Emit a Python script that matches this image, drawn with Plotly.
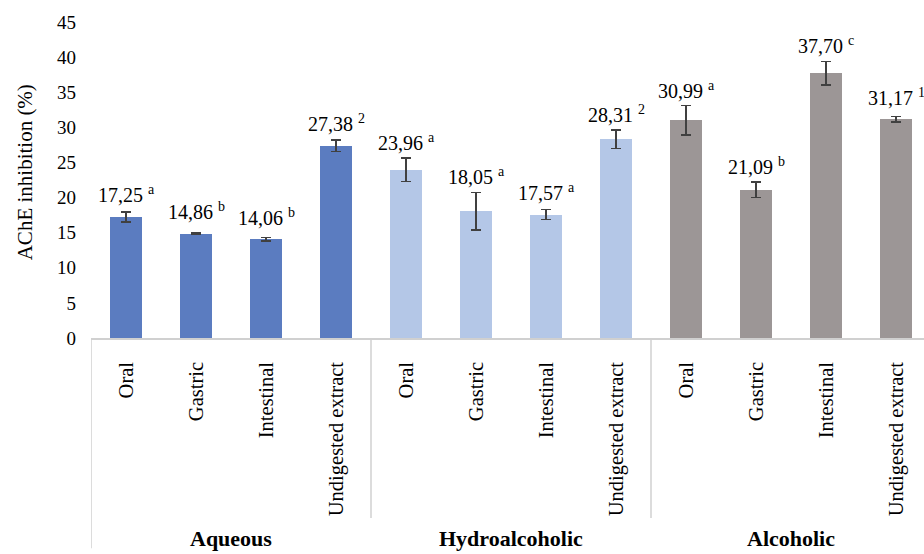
import plotly.graph_objects as go

# AChE inhibition by extract type and digestion phase
groups = ["Aqueous", "Hydroalcoholic", "Alcoholic"]
phases = ["Oral", "Gastric", "Intestinal", "Undigested extract"]
aqueous = [17.25, 14.86, 14.06, 27.38]
hydroalcoholic = [23.96, 18.05, 17.57, 28.31]
alcoholic = [30.99, 21.09, 37.70, 31.17]
aqueous_err = [0.7, 0.1, 0.25, 0.85]
hydroalcoholic_err = [1.65, 2.7, 0.7, 1.3]
alcoholic_err = [2.1, 1.1, 1.7, 0.4]
aqueous_sig = ["a", "b", "b", "2"]
hydroalcoholic_sig = ["a", "a", "a", "2"]
alcoholic_sig = ["a", "b", "c", "1"]
y_ticks = [0, 5, 10, 15, 20, 25, 30, 35, 40, 45]

colors = ["#5b7cc0", "#b4c7e7", "#9c9696"]
font = "Liberation Serif"

series = [
    (aqueous, aqueous_err, aqueous_sig),
    (hydroalcoholic, hydroalcoholic_err, hydroalcoholic_sig),
    (alcoholic, alcoholic_err, alcoholic_sig),
]

fig = go.Figure()
annotations = []
shapes = []
n = len(phases)
for gi, (vals, errs, sigs) in enumerate(series):
    xs = [gi * n + i for i in range(n)]
    fig.add_trace(go.Bar(
        x=xs, y=vals, width=0.46, marker=dict(color=colors[gi], line=dict(width=0)),
        error_y=dict(type="data", array=errs, visible=True, color="#404040",
                     thickness=1.5, width=5),
        showlegend=False, hoverinfo="skip",
    ))
    for x, v, e, s in zip(xs, vals, errs, sigs):
        annotations.append(dict(
            x=x, y=v + max(2.05, e + 1.15), xref="x", yref="y",
            text=f"{v:.2f}".replace(".", ",") + f" <sup>{s}</sup>",
            showarrow=False, yanchor="bottom", xanchor="center", yshift=-6,
            font=dict(family=font, size=20, color="#000000"),
        ))
    # group label
    annotations.append(dict(
        x=gi * n + (n - 1) / 2, y=-0.636, xref="x", yref="paper",
        text=f"<b>{groups[gi]}</b>", showarrow=False, yanchor="middle",
        font=dict(family=font, size=22, color="#000000"),
    ))

# vertical lines separating the groups under the axis
shapes.append(dict(type="line", xref="x", yref="paper", x0=-0.5, x1=-0.5,
                   y0=0, y1=-0.665, line=dict(color="#d0d0d0", width=1.5)))
for gi in (1, 2):
    xb = gi * n - 0.5
    shapes.append(dict(type="line", xref="x", yref="paper", x0=xb, x1=xb,
                       y0=0, y1=-0.57, line=dict(color="#d0d0d0", width=1.5)))

# y axis title
annotations.append(dict(
    x=-0.079, y=0.525, xref="paper", yref="paper", text="AChE inhibition (%)",
    textangle=-90, showarrow=False, xanchor="center", yanchor="middle",
    font=dict(family=font, size=21, color="#000000"),
))

fig.update_layout(
    width=924, height=554,
    margin=dict(l=91, r=0, t=22, b=216),
    paper_bgcolor="white", plot_bgcolor="white",
    bargap=0,
    font=dict(family=font),
    annotations=annotations, shapes=shapes,
    xaxis=dict(
        range=[-0.5, 11.4], tickvals=list(range(3 * n)), ticktext=phases * 3,
        tickangle=-90, showline=True, linecolor="#d0d0d0", linewidth=1.5,
        showgrid=False, zeroline=False, ticks="", ticklabelstandoff=14,
        tickfont=dict(family=font, size=20.5, color="#000000"),
    ),
    yaxis=dict(
        range=[0, 45], tickvals=y_ticks, showgrid=False, zeroline=False,
        showline=False, ticks="", ticklabelstandoff=14,
        tickfont=dict(family=font, size=19, color="#000000"),
    ),
)

fig.write_html("out.html")
